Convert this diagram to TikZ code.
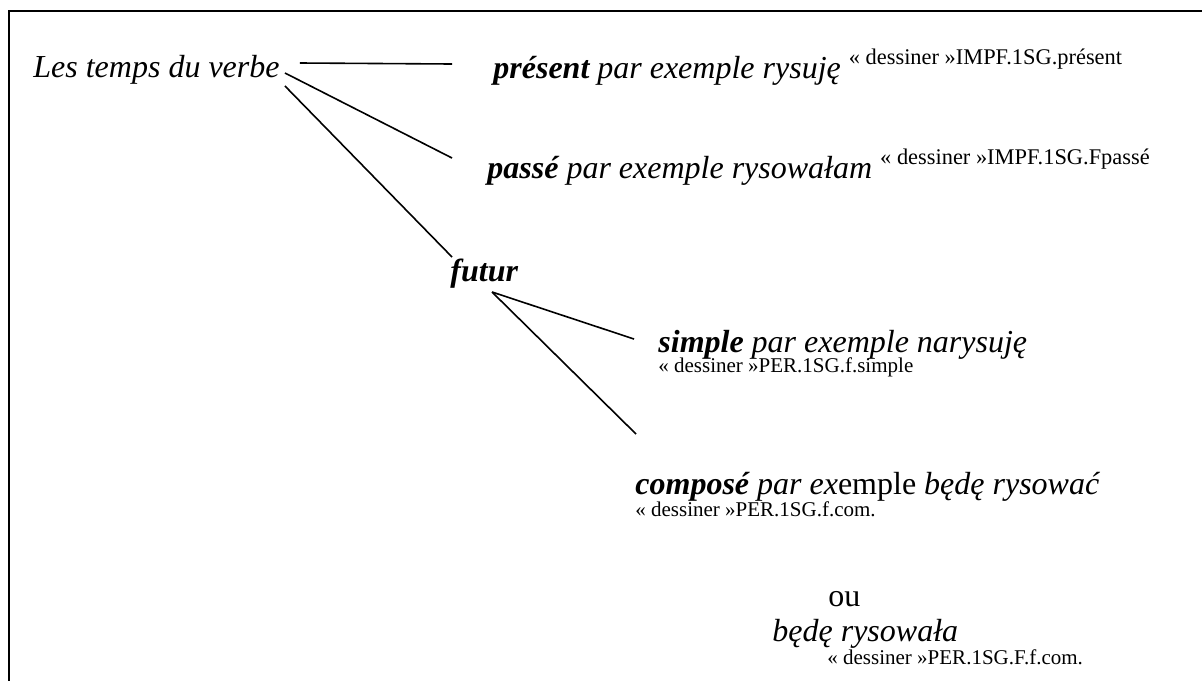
\documentclass[tikz,border=0pt]{standalone}
\usepackage{fontspec}
\setmainfont{Liberation Serif}
\usetikzlibrary{positioning}

\newcommand\glossfont{\fontsize{10.5}{12}\selectfont\upshape}
\newcommand\supgloss[1]{\raisebox{7pt}{\fontsize{11.2}{13}\selectfont\upshape #1}}

\begin{document}
\begin{tikzpicture}[x=0.5pt, y=-0.5pt,
  tense/.style={inner sep=0pt, anchor=base west,
    font=\fontsize{16}{19}\selectfont\itshape},
  gloss/.style={inner sep=0pt, anchor=base west, font=\glossfont},
  branch/.style={line width=0.8pt}
]
  \useasboundingbox (0,0) rectangle (1202,681);
  \draw[line width=1.2pt] (1202,11) -- (9,11) -- (9,681);

  \node[tense] (verbe)   at (33,77)  {Les temps du verbe};
  \node[tense] (present) at (493,78)
    {\textbf{présent} par exemple rysuję \supgloss{« dessiner »IMPF.1SG.présent}};
  \node[tense] (passe)   at (487,178)
    {\textbf{passé} par exemple rysowałam \supgloss{« dessiner »IMPF.1SG.Fpassé}};
  \node[tense] (futur)   at (450,281) {\textbf{futur}};

  \node[tense] (simple)  at (658,352) {\textbf{simple} par exemple narysuję};
  \node[gloss, below=10pt of simple.base west, anchor=base west] (simplegl)
    {« dessiner »PER.1SG.f.simple};
  \node[tense] (compose) at (635,494) {\textbf{composé} par ex{\upshape emple} będę rysować};
  \node[gloss, below=11pt of compose.base west, anchor=base west] (composegl)
    {« dessiner »PER.1SG.f.com.};

  \node[tense, font=\fontsize{16}{19}\selectfont] (ou) at (828,606) {ou};
  \node[tense] (bede) at (772,641) {będę rysowała};
  \node[gloss, below right=11.5pt and 27.5pt of bede.base west, anchor=base west] (bedegl)
    {« dessiner »PER.1SG.F.f.com.};

  \draw[branch] ([shift={(20,-14)}]verbe.base east) -- ([shift={(-41,-14)}]present.base west);
  \draw[branch] ([shift={(5,-4)}]verbe.base east)  -- ([shift={(-35,-20)}]passe.base west);
  \draw[branch] ([shift={(5,9)}]verbe.base east)   -- ([shift={(2,-24)}]futur.base west);
  \draw[branch] ([shift={(42,11)}]futur.base west) -- ([shift={(-24,-13)}]simple.base west);
  \draw[branch] ([shift={(42,11)}]futur.base west) -- ([shift={(1,-60)}]compose.base west);
\end{tikzpicture}
\end{document}
